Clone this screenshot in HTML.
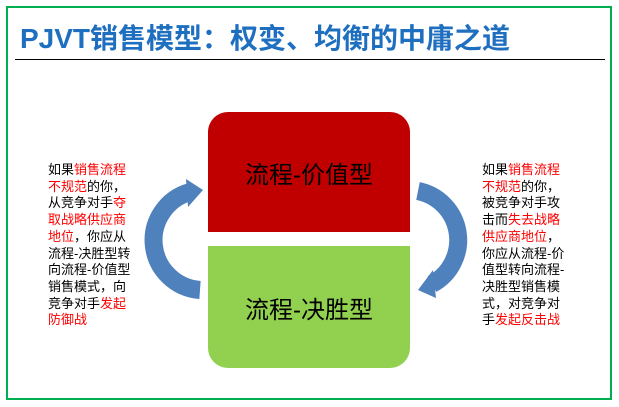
<!DOCTYPE html>
<html><head><meta charset="utf-8"><style>
body{margin:0;width:619px;height:407px;background:#fff;position:relative;overflow:hidden;font-family:"Liberation Sans","Noto Sans CJK SC",sans-serif}
.frame{position:absolute;left:6px;top:6px;width:602px;height:390px;border:2px solid #00B050}
.title{position:absolute;left:20px;top:17px;font-size:28px;font-weight:bold;color:#1F6FC0;white-space:nowrap;letter-spacing:0px}
.line{position:absolute;left:15px;top:59px;width:590px;height:1px;background:#000}
.box{position:absolute;left:208px;width:202px;display:flex;align-items:center;justify-content:center;font-size:24px;color:#000}
.red{top:112px;height:120px;background:#C00000;border-radius:20px 20px 0 0}
.green{top:246px;height:122px;background:#92D050;border-radius:0 0 20px 20px}
.txt{position:absolute;font-size:13px;line-height:16.7px;color:#000;width:90px}
.r{color:#FF0000}
</style></head><body>
<div class="frame"></div>
<div class="title">PJVT销售模型：权变、均衡的中庸之道</div>
<div class="line"></div>
<div class="box red">流程-价值型</div>
<div class="box green">流程-决胜型</div>
<div class="txt" style="left:48px;top:162px">如果<span class="r">销售流程不规范</span>的你，从竞争对手<span class="r">夺取战略供应商地位</span>，你应从流程-决胜型转向流程-价值型销售模式，向竞争对手<span class="r">发起防御战</span></div>
<div class="txt" style="left:482px;top:162px">如果<span class="r">销售流程不规范</span>的你，被竞争对手攻击而<span class="r">失去战略供应商地位</span>，你应从流程-价值型转向流程-决胜型销售模式，对竞争对手<span class="r">发起反击战</span></div>
<svg width="619" height="407" style="position:absolute;left:0;top:0">
<path d="M190 192 A50 50 0 0 0 200 290" fill="none" stroke="#4F81BD" stroke-width="18"/>
<polygon points="186,179 203,190 188,207" fill="#4F81BD"/>
<path d="M418 191 A50 50 0 0 1 432 284" fill="none" stroke="#4F81BD" stroke-width="18"/>
<polygon points="433,270 418,290 436,298" fill="#4F81BD"/>
</svg>
</body></html>
